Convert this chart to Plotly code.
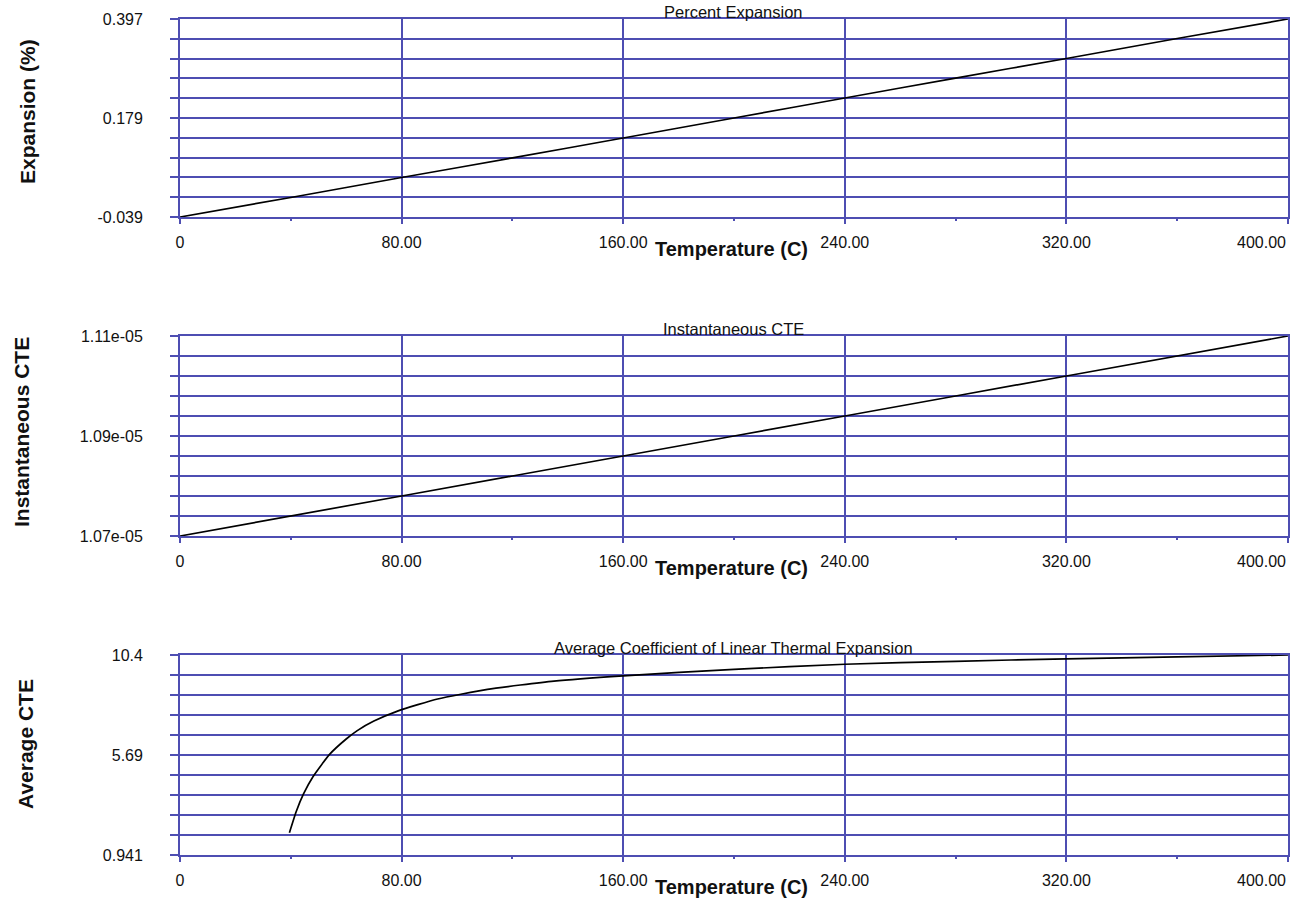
import plotly.graph_objects as go

# ---- data -----------------------------------------------------------------
temp_c = [0, 40, 80, 120, 160, 200, 240, 280, 320, 360, 400]
expansion_pct = [-0.039, 0.004, 0.048, 0.091, 0.135, 0.179, 0.223, 0.267, 0.310, 0.354, 0.397]

inst_temp = [0, 80, 160, 240, 320, 400]
inst_cte = [1.070e-05, 1.078e-05, 1.086e-05, 1.094e-05, 1.102e-05, 1.110e-05]

avg_temp = [39.5, 42, 44.5, 48, 54, 60, 64, 70, 79, 93, 111, 135, 160, 200, 240, 280, 320, 360, 400]
avg_cte = [2.0, 3.02, 3.82, 4.66, 5.72, 6.45, 6.85, 7.30, 7.80, 8.35, 8.81, 9.20, 9.45,
           9.76, 10.00, 10.14, 10.26, 10.35, 10.44]

x_ticks = [0, 80, 160, 240, 320, 400]
x_tick_labels = ["0", "80.00", "160.00", "240.00", "320.00", "400.00"]
x_minor = [40, 120, 200, 280, 360]

exp_range = [-0.039, 0.397]
exp_labels = ["-0.039", "0.179", "0.397"]
inst_range = [1.07e-05, 1.11e-05]
inst_labels = ["1.07e-05", "1.09e-05", "1.11e-05"]
avg_range = [0.941, 10.44]
avg_labels = ["0.941", "5.69", "10.4"]

panel_titles = ["Percent Expansion", "Instantaneous CTE",
                "Average Coefficient of Linear Thermal Expansion"]
y_titles = ["Expansion (%)", "Instantaneous CTE", "Average CTE"]
x_title = "Temperature (C)"

# ---- styling ----------------------------------------------------------------
W, H = 1304, 900
GRID = "rgb(78,78,178)"
FONT = "Arial, Liberation Sans, sans-serif"
TXT = "#111111"
TICK_SIZE = 16


def px_x(p):
    return p / W


def px_y(p):
    return 1 - p / H


x_dom = [px_x(180), px_x(1288)]
# panel (top, bottom) edges in page pixels
panels_px = [(19, 217), (336, 536), (655, 855)]
y_title_x = [27, 21, 25]
y_title_y = [112, 432, 744]

series = [(temp_c, expansion_pct, exp_range, exp_labels),
          (inst_temp, inst_cte, inst_range, inst_labels),
          (avg_temp, avg_cte, avg_range, avg_labels)]

fig = go.Figure()
annotations = []
layout = {}

for i, ((xs, ys, yr, ylabels), (top, bot)) in enumerate(zip(series, panels_px)):
    n = "" if i == 0 else str(i + 1)
    xa, ya = "x" + n, "y" + n
    fig.add_trace(go.Scatter(x=xs, y=ys, xaxis=xa, yaxis=ya, mode="lines",
                             line=dict(color="black", width=1.7, shape="spline", smoothing=0.5),
                             showlegend=False, hoverinfo="skip"))

    lo, hi = yr
    y_vals = [lo + k * (hi - lo) / 10 for k in range(11)]
    y_text = ["" for _ in y_vals]
    y_text[0], y_text[5], y_text[10] = ylabels

    # the last x label is right-aligned to its tick, drawn separately below
    x_text = x_tick_labels[:-1] + [""]

    layout["xaxis" + n] = dict(
        domain=x_dom, anchor=ya, range=[0, 400], automargin=False,
        tickvals=x_ticks, ticktext=x_text,
        ticks="outside", ticklen=5, tickwidth=1.8, tickcolor=GRID,
        showgrid=True, gridcolor=GRID, gridwidth=1.8,
        showline=True, linecolor=GRID, linewidth=1.8, mirror=True,
        zeroline=False, ticklabelstandoff=5,
        tickfont=dict(family=FONT, size=TICK_SIZE, color=TXT),
        minor=dict(tickvals=x_minor, ticks="outside", ticklen=2,
                   tickcolor=GRID, tickwidth=1.8, showgrid=False),
    )
    layout["yaxis" + n] = dict(
        domain=[px_y(bot), px_y(top)], anchor=xa, range=[lo, hi], automargin=False,
        tickvals=y_vals, ticktext=y_text,
        ticks="outside", ticklen=8, tickwidth=1.8, tickcolor=GRID,
        showgrid=True, gridcolor=GRID, gridwidth=1.8,
        showline=True, linecolor=GRID, linewidth=1.8, mirror=True,
        zeroline=False, ticklabelstandoff=24,
        tickfont=dict(family=FONT, size=TICK_SIZE, color=TXT),
    )

    # right-hand x tick label
    annotations.append(dict(
        text=x_tick_labels[-1], xref="x" + n, yref="paper",
        x=x_ticks[-1], y=px_y(bot + 25), xanchor="right", yanchor="middle",
        showarrow=False, font=dict(family=FONT, size=TICK_SIZE, color=TXT)))
    # panel title sitting on the top frame line
    annotations.append(dict(
        text=panel_titles[i], xref="paper", yref="paper",
        x=px_x(733), y=px_y(top), xanchor="center", yanchor="bottom", yshift=-4,
        showarrow=False, font=dict(family=FONT, size=16.5, color=TXT)))
    # x-axis title placed between the tick labels
    annotations.append(dict(
        text=f"<b>{x_title}</b>", xref="paper", yref="paper",
        x=px_x(731), y=px_y(bot + 32), xanchor="center", yanchor="middle",
        showarrow=False, font=dict(family=FONT, size=20, color=TXT)))
    # y-axis title
    annotations.append(dict(
        text=f"<b>{y_titles[i]}</b>", xref="paper", yref="paper",
        x=px_x(y_title_x[i]), y=px_y(y_title_y[i]), xanchor="center", yanchor="middle",
        textangle=-90, showarrow=False, font=dict(family=FONT, size=21, color=TXT)))

fig.update_layout(
    width=W, height=H, margin=dict(l=0, r=0, t=0, b=0, autoexpand=False),
    paper_bgcolor="white", plot_bgcolor="white",
    annotations=annotations, **layout)

fig.write_html("out.html")
